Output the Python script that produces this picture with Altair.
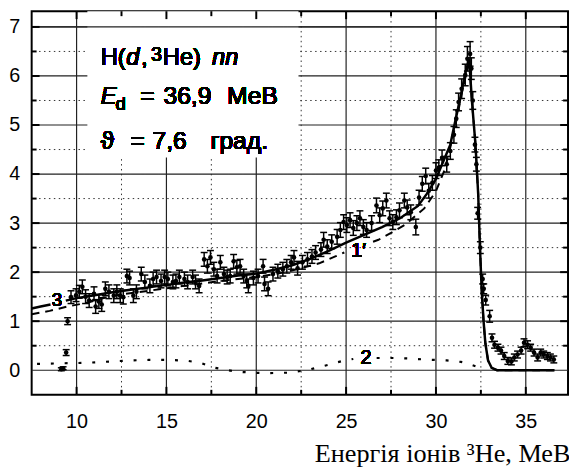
import altair as alt
import pandas as pd

# ---------------- data ----------------
pts_x = [9.15, 9.25, 9.42, 9.5, 9.69, 9.97, 10.15, 10.32, 10.5, 10.7, 10.97, 11.06, 11.24, 11.4,
         11.6, 11.8, 12.07, 12.24, 12.43, 12.6, 12.8, 12.95, 13.16, 13.33, 13.6, 13.8, 14.08,
         14.26, 14.45, 14.7, 14.9, 15.08, 15.36, 15.53, 15.72, 16.0, 16.18, 16.46, 16.62, 16.82,
         17.1, 17.28, 17.45, 17.64, 17.82, 18.0, 18.2, 18.38, 18.55, 18.74, 18.92, 19.1, 19.3,
         19.47, 19.56, 19.84, 20.1, 20.38, 20.46, 20.66, 20.93, 21.2, 21.48, 21.7, 21.94, 22.1,
         22.3, 22.57, 22.85, 23.1, 23.3, 23.6, 23.75, 23.95, 24.2, 24.5, 24.68, 24.86, 25.04,
         25.22, 25.4, 25.6, 25.77, 25.96, 26.14, 26.42, 26.69, 26.87, 27.04, 27.24, 27.42, 27.6,
         27.8, 27.97, 28.24, 28.4, 28.6, 28.88, 29.06, 29.24, 29.43, 29.6, 29.8, 30.0, 30.16,
         30.34, 30.6, 30.8, 31.0, 31.13, 31.26, 31.43, 31.63, 31.75, 31.9, 31.97, 32.05, 32.17,
         32.25, 32.32, 32.47, 32.6, 32.66, 32.77, 32.99, 33.12, 33.26, 33.45, 33.62, 33.8, 34.0,
         34.2, 34.36, 34.54, 34.74, 34.9, 35.1, 35.27, 35.46, 35.66, 35.83, 36.0, 36.2, 36.37,
         36.56]
pts_y = [0.02, 0.04, 0.36, 1.0, 1.49, 1.53, 1.6, 1.70, 1.50, 1.42, 1.56, 1.3, 1.40, 1.34,
         1.66, 1.60, 1.52, 1.60, 1.52, 1.49, 1.92, 1.88, 1.52, 1.6, 1.96, 1.8, 1.72,
         1.86, 1.9, 1.82, 1.9, 1.86, 1.8, 1.82, 1.9, 1.86, 1.8, 1.9, 1.8, 1.72,
         2.26, 2.12, 2.3, 2.06, 1.92, 2.2, 1.96, 1.9, 1.92, 2.22, 2.1, 2.12, 1.92,
         1.82, 1.72, 1.88, 1.92, 2.12, 1.76, 1.66, 1.96, 2.02, 2.06, 2.12, 2.2, 2.3,
         2.08, 2.2, 2.26, 2.32, 2.4, 2.46, 2.66, 2.52, 2.62, 2.72, 2.86, 3.02, 2.96,
         3.06, 2.9, 3.0, 3.1, 2.92, 2.86, 3.0, 3.36, 3.16, 3.3, 3.46, 3.1, 3.02,
         3.12, 3.26, 3.46, 3.32, 3.22, 2.92, 3.52, 3.8, 3.96, 3.66, 3.82, 4.07, 4.13,
         4.33, 4.2, 4.47, 4.8, 5.13, 5.47, 5.74, 6.02, 6.35, 6.45, 6.15, 5.5, 4.6,
         4.2, 3.2, 2.5, 1.86, 1.66, 1.43, 1.1, 0.66, 0.52, 0.46, 0.40, 0.29, 0.19,
         0.18, 0.26, 0.32, 0.4, 0.56, 0.52, 0.46, 0.36, 0.26, 0.36, 0.32, 0.29, 0.26,
         0.22]
pts_err = [0.03, 0.03, 0.06, 0.07, 0.13, 0.13, 0.13, 0.14, 0.14, 0.14, 0.14, 0.14, 0.14, 0.14,
           0.14, 0.14, 0.14, 0.14, 0.14, 0.14, 0.14, 0.14, 0.14, 0.14, 0.14, 0.14, 0.14,
           0.14, 0.14, 0.14, 0.14, 0.14, 0.14, 0.14, 0.14, 0.14, 0.14, 0.14, 0.14, 0.14,
           0.14, 0.14, 0.14, 0.14, 0.14, 0.14, 0.14, 0.14, 0.14, 0.14, 0.14, 0.14, 0.14,
           0.14, 0.14, 0.14, 0.14, 0.14, 0.14, 0.14, 0.14, 0.14, 0.14, 0.14, 0.14, 0.14,
           0.14, 0.14, 0.14, 0.14, 0.14, 0.14, 0.15, 0.14, 0.14, 0.15, 0.15, 0.15, 0.15,
           0.15, 0.15, 0.15, 0.15, 0.15, 0.15, 0.15, 0.15, 0.15, 0.15, 0.15, 0.15, 0.15,
           0.15, 0.15, 0.15, 0.15, 0.15, 0.16, 0.15, 0.15, 0.16, 0.15, 0.15, 0.16, 0.16,
           0.16, 0.16, 0.17, 0.17, 0.18, 0.18, 0.2, 0.22, 0.25, 0.25, 0.22, 0.18, 0.15,
           0.14, 0.12, 0.12, 0.1, 0.1, 0.1, 0.12, 0.08, 0.07, 0.07, 0.07, 0.07, 0.07,
           0.07, 0.07, 0.07, 0.07, 0.08, 0.08, 0.07, 0.07, 0.07, 0.07, 0.07, 0.07, 0.07,
           0.07]

# curve 3 (solid)
c3_x = [7.5, 8.0, 8.55, 9.4, 10.0, 11.0, 12.0, 13.0, 14.0, 15.0, 16.0, 17.0, 18.0, 19.0, 20.0,
        21.0, 22.0, 23.0, 24.0, 25.0, 26.0, 27.0, 28.0, 29.0, 29.5, 30.0, 30.4, 30.8, 31.07,
        31.35, 31.6, 31.85, 32.0, 32.2, 32.35, 32.45, 32.55, 32.65, 32.75, 32.9, 33.1, 33.4, 36.6]
c3_y = [1.26, 1.30, 1.34, 1.42, 1.47, 1.53, 1.59, 1.64, 1.69, 1.74, 1.79, 1.83, 1.88, 1.93, 1.97,
        2.05, 2.14, 2.27, 2.43, 2.60, 2.76, 2.92, 3.10, 3.35, 3.60, 3.90, 4.25, 4.60, 5.07,
        5.54, 6.00, 6.35, 5.50, 4.60, 3.60, 2.50, 1.60, 1.00, 0.55, 0.20, 0.05, 0.0, 0.0]
c3_seg = [0, 0, 0] + [1] * 40

# curve 1' (dashed)
c1_x = [7.5, 8.5, 9.5, 10.5, 12.0, 14.0, 16.0, 18.0, 20.0, 21.5, 22.5, 23.5, 24.4, 24.9,
        26.5, 26.8, 27.6, 28.3, 29.35, 30.0, 30.5, 31.0, 31.5, 31.85, 32.0, 32.2, 32.35, 32.45,
        32.55, 32.65, 32.75, 32.9, 33.1, 33.4, 36.6]
c1_y = [1.14, 1.21, 1.30, 1.37, 1.52, 1.62, 1.72, 1.82, 1.90, 1.99, 2.08, 2.18, 2.32, 2.40,
        2.62, 2.66, 2.82, 2.97, 3.30, 3.65, 4.10, 4.85, 5.75, 6.30, 5.50, 4.60, 3.60, 2.50,
        1.60, 1.00, 0.55, 0.20, 0.05, 0.0, 0.0]
c1_seg = [0] * 14 + [1] * 21

# curve 2 (dotted)
c2_x = [7.8, 9.0, 10.5, 12.0, 13.0, 14.0, 15.2, 16.2, 16.9, 17.7, 18.9, 20.4, 21.8, 22.8, 24.0,
        24.8, 25.4, 26.7, 27.5, 28.5, 29.3, 30.6, 31.4, 31.8, 32.3]
c2_y = [0.13, 0.14, 0.15, 0.18, 0.20, 0.21, 0.21, 0.19, 0.15, 0.05, -0.03, -0.06, -0.05, 0.0, 0.11,
        0.19, 0.23, 0.25, 0.25, 0.24, 0.22, 0.20, 0.17, 0.13, 0.07]
c2_seg = [0] * 17 + [1] * 8

x_labels = [10, 15, 20, 25, 30, 35]
y_labels = [0, 1, 2, 3, 4, 5, 6, 7]
x_minor = [12.5, 17.5, 22.5, 27.5, 32.5]
y_minor = [0.5, 1.5, 2.5, 3.5, 4.5, 5.5, 6.5]
box_x = [10.6, 22.35]
box_y = [4.34, 7.32]

# ---------------- layout ----------------
W, H = 544, 389
X_DOM = [7.5, 37.35]
Y_DOM = [-0.5, 7.32]
xs = alt.Scale(domain=X_DOM, nice=False, zero=False)
ys = alt.Scale(domain=Y_DOM, nice=False, zero=False)

x_axis = alt.Axis(
    values=x_labels, grid=False, ticks=False, domain=False, labelPadding=17,
    labelFont="Liberation Sans", labelFontSize=20, labelColor="black",
    title="Енергія іонів ³He, МеВ", titleFont="Liberation Serif", titleFontSize=26.6,
    titleFontWeight="normal", titleColor="black", titleAlign="right",
    titleX=W + 2, titleY=68, titleBaseline="alphabetic")
y_axis = alt.Axis(
    values=y_labels, grid=False, ticks=False, domain=False, labelPadding=12,
    labelFont="Liberation Sans", labelFontSize=20, labelColor="black", title="")

pts = pd.DataFrame({"x": pts_x, "y": pts_y, "err": pts_err})
pts["lo"] = pts["y"] - pts["err"]
pts["hi"] = pts["y"] + pts["err"]
c3 = pd.DataFrame({"x": c3_x, "y": c3_y, "seg": c3_seg})
c1 = pd.DataFrame({"x": c1_x, "y": c1_y, "seg": c1_seg})
c2 = pd.DataFrame({"x": c2_x, "y": c2_y, "seg": c2_seg})

X = lambda f: alt.X(f, type="quantitative", scale=xs, axis=x_axis)
Y = lambda f: alt.Y(f, type="quantitative", scale=ys, axis=y_axis)


def vgrid(vals, dash, width, color):
    return alt.Chart(pd.DataFrame({"g": vals})).mark_rule(
        strokeDash=dash, strokeWidth=width, color=color).encode(x=X("g"))


def hgrid(vals, dash, width, color):
    return alt.Chart(pd.DataFrame({"g": vals})).mark_rule(
        strokeDash=dash, strokeWidth=width, color=color).encode(y=Y("g"))


minor_dash = [1.5, 3.5]
grid_layers = [
    vgrid(x_minor, minor_dash, 1, "#333"),
    hgrid(y_minor, minor_dash, 1, "#333"),
    vgrid(x_labels, [1, 0], 1.2, "#222"),
    hgrid(y_labels, [1, 0], 1.2, "#222"),
]

box = alt.Chart(pd.DataFrame({"x1": [box_x[0]], "x2": [box_x[1]],
                              "y1": [box_y[0]], "y2": [box_y[1]]})).mark_rect(
    color="white").encode(x=X("x1"), x2="x2", y=Y("y1"), y2="y2")
top_line = hgrid([7], [1, 0], 1.2, "#222")


def ticks(vals, length, side):
    d = pd.DataFrame({"g": vals})
    m = alt.Chart(d).mark_rule(color="black", strokeWidth=2)
    if side == "bottom":
        return m.encode(x=X("g"), y=alt.value(H), y2=alt.value(H - length))
    if side == "top":
        return m.encode(x=X("g"), y=alt.value(0), y2=alt.value(length))
    if side == "left":
        return m.encode(y=Y("g"), x=alt.value(0), x2=alt.value(length))
    return m.encode(y=Y("g"), x=alt.value(W), x2=alt.value(W - length))


tick_layers = [ticks(x_labels, 8, "bottom"), ticks(x_minor, 5, "bottom"),
               ticks(x_labels, 8, "top"), ticks(x_minor, 5, "top"),
               ticks(y_labels[1:], 8, "left"), ticks(y_minor, 5, "left"),
               ticks(y_labels[1:], 8, "right"), ticks(y_minor, 5, "right")]

line2 = alt.Chart(c2).mark_line(color="black", strokeWidth=2.2, strokeDash=[3, 11]).encode(
    x=X("x"), y=Y("y"), detail="seg:N")
line1 = alt.Chart(c1).mark_line(color="black", strokeWidth=2, strokeDash=[8, 6]).encode(
    x=X("x"), y=Y("y"), detail="seg:N")
line3 = alt.Chart(c3).mark_line(color="black", strokeWidth=2.5).encode(
    x=X("x"), y=Y("y"), detail="seg:N")

ebar = alt.Chart(pts).mark_rule(color="black", strokeWidth=1.5).encode(
    x=X("x"), y=Y("lo"), y2="hi")
cap_hi = alt.Chart(pts).mark_tick(color="black", orient="horizontal", size=7, thickness=1.5,
                                  opacity=1).encode(x=X("x"), y=Y("hi"))
cap_lo = alt.Chart(pts).mark_tick(color="black", orient="horizontal", size=7, thickness=1.5,
                                  opacity=1).encode(x=X("x"), y=Y("lo"))
dots = alt.Chart(pts).mark_circle(color="black", size=22, opacity=1).encode(x=X("x"), y=Y("y"))


def dlabel(text, x, y, size=20):
    return alt.Chart(pts).mark_text(
        text=text, font="Liberation Sans", fontSize=size, color="black",
        align="center", baseline="middle").encode(
        x=alt.X(datum=x, type="quantitative", scale=xs, axis=x_axis),
        y=alt.Y(datum=y, type="quantitative", scale=ys, axis=y_axis))


labels = [dlabel("3", 8.91, 1.43, 19), dlabel("1′", 25.7, 2.42), dlabel("2", 26.1, 0.25)]

ANN_FONT = "Liberation Sans"


def txt(text, x, y, size=24, italic=False, align="left"):
    return alt.Chart(pts).mark_text(
        text=text, font=ANN_FONT, fontSize=size, color="black", align=align,
        baseline="alphabetic", fontStyle="italic" if italic else "normal").encode(
        x=alt.value(x), y=alt.value(y))


ann = [
    txt("H(", 70, 55), txt("d", 96, 55, italic=True), txt(",", 111, 55),
    txt("3", 121, 50, size=20), txt("He)", 133, 55), txt("nn", 183, 55, italic=True),
    txt("E", 70, 94, italic=True), txt("d", 85, 100, size=19),
    txt("=", 117.5, 94, 25, align="center"), txt("36,9", 158, 94, 25, align="center"),
    txt("МеВ", 224, 94, 25, align="center"),
    txt("ϑ", 70, 140, 25), txt("=", 107.5, 140, 25, align="center"),
    txt("7,6", 140, 140, 25, align="center"), txt("град.", 210.5, 140, 25, align="center"),
]

chart = alt.layer(
    *grid_layers, box, top_line, *tick_layers, line2, line1, line3,
    ebar, cap_hi, cap_lo, dots, *labels, *ann
).properties(
    width=W, height=H,
    padding={"left": 24, "top": 0, "right": 1, "bottom": 70},
    autosize=alt.AutoSizeParams(type="none"),
    background="white",
).configure_view(
    stroke="black", strokeWidth=2
)

chart.save("out.html", embed_options={"renderer": "svg", "actions": False})
